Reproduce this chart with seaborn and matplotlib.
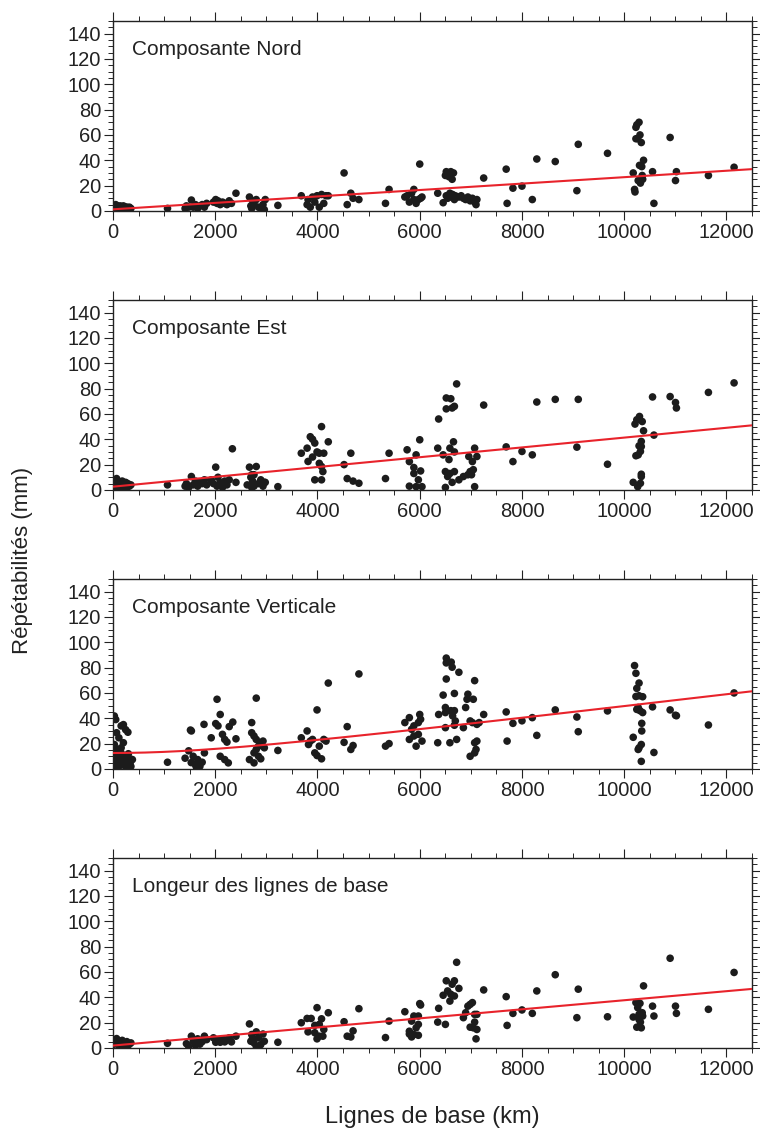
"""Repeatability vs baseline length, four components"""
import numpy as np
import pandas as pd
import matplotlib
matplotlib.use("Agg")
import matplotlib.pyplot as plt
from matplotlib.ticker import MultipleLocator
import seaborn as sns

# ---- data (km, mm) ----
NORD_X = [26, 53, 70, 90, 115, 140, 159, 180, 203, 230, 247, 270, 291, 320, 350,
          1066,
          1410, 1436, 1480, 1533, 1568, 1612, 1656, 1700, 1744, 1788, 1832,
          1965, 2009, 2035, 2053, 2097, 2141, 2185, 2229, 2273, 2317, 2405,
          2669, 2696, 2713, 2731, 2758, 2802, 2846, 2890, 2934, 2960, 2978,
          3225,
          3683, 3797, 3815, 3859, 3903, 3947, 3991, 4035, 4079, 4123, 4167, 4211,
          4520, 4581, 4652, 4696, 4810, 5330, 5400,
          5709, 5753, 5797, 5841, 5885, 5929, 5973, 6000, 6017, 6044, 5885,
          6352, 6458,
          6502, 6519, 6546, 6572, 6608, 6634, 6660, 6519, 6546, 6590, 6616, 6643, 6678, 6696,
          6766, 6854, 6898, 6942, 6986, 7030, 7074, 7101, 7118, 6810,
          7251, 7691, 7709, 7823, 8000, 8202, 8290, 8651, 9074, 9101, 9673,
          10176, 10202, 10211, 10229, 10246, 10264, 10273, 10290, 10299, 10308,
          10317, 10334, 10343, 10352, 10361, 10378, 10229,
          10554, 10581, 10898, 11003, 11021, 11647, 12149]
NORD_Y = [3, 5, 2, 4, 3, 4, 2, 3, 4, 2, 3, 3, 2, 3, 2,
          2,
          2, 4, 3, 8.6, 3, 5, 2, 4, 5, 3, 6,
          7, 9, 6, 8, 5, 7, 6, 5, 8, 6, 14,
          11, 4, 2, 8, 6, 9, 3, 2, 5, 1, 9,
          4.4,
          12, 5, 9, 3, 11, 7, 12, 3, 13, 6, 12, 12,
          30, 5, 14, 10, 9, 6, 17,
          11, 12, 7, 14, 17, 6, 9, 37, 10, 11, 9,
          14, 6.5,
          28, 31, 29, 27, 31, 25, 30, 12, 10, 14, 11, 13, 9, 12,
          11, 10, 9, 11, 8, 10, 7, 5, 9, 12,
          26, 33, 6, 18, 19.6, 9, 41, 39, 16, 52.6, 45.5,
          30, 17, 15, 66, 68, 57, 24, 70, 36, 60,
          22, 54, 35, 28, 25, 40, 57,
          31, 6, 58, 24, 31, 28, 34.5]

EST_X = [26, 53, 70, 90, 115, 140, 159, 180, 203, 230, 247, 270, 291, 320, 350, 115, 200,
         1066,
         1410, 1436, 1480, 1533, 1568, 1612, 1656, 1700, 1744, 1788, 1832,
         1921, 1965, 2009, 2035, 2053, 2097, 2141, 2185, 2229, 2273, 2335, 2405,
         2625, 2669, 2696, 2713, 2731, 2758, 2802, 2846, 2890, 2934, 2960, 2978, 2713, 2758,
         3225,
         3683, 3797, 3815, 3859, 3903, 3947, 3991, 3903, 4035, 4079, 4035, 4079, 4105,
         3947, 4079, 4123, 4211,
         4520, 4581, 4652, 4696, 4810, 5330, 5400,
         5753, 5797, 5885, 5929, 5885, 5973, 5929, 5797, 6017, 6000, 6044,
         6352, 6370,
         6519, 6608, 6519, 6634, 6678, 6722, 6660, 6590, 6678, 6572, 6458, 6502, 6546,
         6590, 6678, 6634, 6502,
         6766, 6854, 6942, 6986, 7030, 7074, 7048, 6960, 7118, 7074, 7013,
         7251, 7691, 7823, 8000, 8202, 8290, 8651, 9101, 9074, 9673,
         10176, 10229, 10211, 10246, 10299, 10264, 10317, 10334, 10334, 10317, 10334,
         10334, 10352, 10378, 10290, 10273,
         10554, 10581, 10898, 11003, 11021, 11647, 12149]
EST_Y = [4, 2, 9, 5, 3, 6, 2, 7, 4, 3, 6, 2, 5, 3, 4, 1, 1.5,
         4,
         3, 5, 2, 10.6, 4, 7, 3, 6, 5, 8, 4,
         8, 5, 18, 3, 10, 6, 2, 7, 4, 8, 32.5, 6,
         4, 18, 10, 2, 7, 12, 18.5, 5, 8, 3, 6, 6, 12, 3,
         2.6,
         29, 33, 22.5, 42, 40, 37, 30, 26, 29, 50, 21, 18.5, 14.5,
         8, 8, 29, 38,
         20, 9, 29, 7, 5.3, 9, 29,
         31.7, 22.4, 17.7, 27.7, 13, 8, 2.6, 3, 15, 39.6, 2.6,
         33, 56,
         72.6, 72, 64, 64.7, 66, 83.7, 38, 33, 30, 24, 27.7, 14.5, 10.6,
         13, 14.5, 6, 2,
         8, 10.6, 12, 14.5, 22.4, 33, 16, 26.4, 26.4, 2.6, 12,
         67, 34, 22.4, 30.4, 27.7, 69.4, 71.5, 71.5, 33.8, 20.3,
         6, 27, 52, 55.4, 58, 2.6, 5.3, 12.4, 10.6, 30.4, 34.3,
         38.3, 54, 46.7, 34.8, 27.7,
         73.4, 43.3, 73.7, 69, 64.7, 77, 84.5]

VERT_X = [26, 53, 70, 159, 203, 247, 291, 115, 203, 26, 70, 159, 203, 247, 291,
          335, 53, 115, 247, 335, 379, 159, 26, 90, 130, 180, 300, 60, 220, 350,
          1066,
          1410, 1515, 1533, 1780, 1480, 1568, 1656, 1612, 1700, 1744, 1788, 1530, 1630,
          1921, 2009, 2035, 2097, 2053, 2141, 2185, 2229, 2273, 2343, 2405, 2097, 2185, 2255,
          2669, 2713, 2758, 2802, 2846, 2890, 2802, 2713, 2758, 2846, 2890, 2934, 2758,
          2960, 2802,
          3225,
          3683, 3797, 3824, 3859, 3903, 3947, 3991, 3991, 4035, 4079, 4123, 4167, 4211,
          4520, 4581, 4652, 4696, 4810, 5330, 5400,
          5709, 5797, 5841, 5885, 5929, 5797, 5973, 6000, 6017, 5973, 6044, 5885,
          6352, 6370,
          6458, 6519, 6519, 6616, 6634, 6519, 6502, 6502, 6502, 6590, 6608, 6643, 6678,
          6722, 6678, 6696, 6766, 6678,
          6854, 6898, 6925, 6942, 6986, 7030, 7048, 7074, 7074, 7101, 7118, 7118, 7162,
          7074, 6986,
          7251, 7691, 7709, 7823, 8000, 8202, 8290, 8651, 9074, 9101, 9673,
          10202, 10229, 10246, 10290, 10229, 10290, 10361, 10246, 10308, 10361, 10176,
          10273, 10334, 10343, 10343, 10334, 10290, 10273,
          10554, 10581, 10898, 11003, 11021, 11647, 12149]
VERT_Y = [41.8, 39, 28.6, 34, 35, 31, 29, 24.6, 20.7, 19.3, 15.4, 12.7, 10, 7.4, 6,
          8, 4.8, 2, 2, 4.8, 7.4, 16.7, 10, 12, 8, 5, 12, 1, 3, 2,
          5.3,
          8.5, 30.7, 30, 35.2, 14.3, 10, 7.4, 3.4, 2.1, 5.3, 12.7, 5, 1.5,
          24.6, 35.8, 55, 43, 34, 27.3, 23.3, 21.2, 33.4, 37, 23.8, 10, 7.4, 4.8,
          7.4, 36.6, 12.7, 55.9, 18, 20.7, 23.3, 28.6, 26, 10, 8, 22, 4.8,
          16.7, 15.4,
          14.6,
          24.6, 30, 19.3, 22, 23.3, 12.7, 10.6, 46.6, 18, 8, 23.3, 22, 67.8,
          21, 33.4, 15.4, 18.5, 75, 18, 20,
          36.6, 40.5, 31.3, 26, 18, 23.3, 27.3, 43, 39.2, 36.6, 22, 34,
          20.7, 43,
          58.3, 87.5, 83.7, 84.3, 80.3, 71, 48.5, 44.5, 32.6, 20.7, 46, 41.9, 34.5,
          23.3, 46, 37.9, 76.3, 59.6,
          32.6, 48.5, 55, 59, 10, 36.6, 55, 69.7, 12.7, 15.4, 22, 35.2, 36.6,
          20.7, 37.9,
          43, 45, 22, 36, 38, 40.5, 26.5, 46.6, 41, 29.4, 45.8,
          81.6, 75.5, 63.6, 67.8, 57.2, 57.8, 57, 47, 46, 44.5, 25,
          15.4, 19.3, 30, 36, 6, 16.7, 48.5,
          49, 13, 46.6, 42.4, 42, 34.7, 60]

LONG_X = [26, 53, 70, 90, 115, 140, 159, 180, 203, 230, 247, 270, 291, 320, 350,
          1066,
          1436, 1533, 1568, 1656, 1744, 1788, 1832, 1480, 1612, 1700,
          1965, 2053, 2097, 2185, 2229, 2273, 2317, 2405, 2009, 2141,
          2669, 2696, 2713, 2758, 2802, 2846, 2890, 2934, 2802, 2960, 2731,
          3225,
          3683, 3797, 3815, 3876, 3947, 3991, 3991, 4035, 4079, 4105, 4123, 4035, 3947,
          4211,
          4520, 4581, 4652, 4696, 4810, 5330, 5400,
          5709, 5797, 5841, 5885, 5885, 5929, 5973, 5973, 5973, 6000, 6017, 5841, 5797,
          6352, 6370,
          6458, 6502, 6519, 6546, 6590, 6608, 6634, 6678, 6722, 6678, 6766,
          6854, 6898, 6942, 6986, 7030, 7048, 7074, 7074, 7101, 7118, 7118, 6986,
          7251, 7691, 7709, 7823, 8000, 8202, 8290, 8651, 9074, 9101, 9673,
          10176, 10229, 10264, 10290, 10246, 10317, 10334, 10352, 10308, 10378, 10361, 10290,
          10554, 10581, 10898, 11003, 11021, 11647, 12149]
LONG_Y = [3, 5, 7.4, 4, 2, 5, 3, 6, 4, 2, 3, 5, 2, 3, 4,
          3.7,
          3.4, 9.3, 5.3, 7.2, 5, 9.3, 6.6, 1.3, 1.9, 3,
          8, 6, 4.5, 4.8, 6.6, 8, 4.8, 9.3, 4.5, 7,
          19, 5.3, 10.6, 4, 12.7, 8, 2.6, 11, 1.3, 5.3, 8,
          4.5,
          19.9, 23.3, 12.7, 23.3, 17.8, 31.8, 7.2, 18.6, 23, 9.3, 14.6, 9.3, 12,
          27.8,
          20.7, 9.3, 8.7, 13.5, 31, 8.2, 21.2,
          28.6, 13.2, 21.2, 25.2, 10.6, 15.9, 25.2, 18.6, 10, 35, 33.9, 8.7, 11,
          20.4, 31.3,
          41.6, 18.6, 53, 45, 37, 42.4, 50.3, 53, 67.6, 41, 47,
          23.9, 27.8, 33, 34.4, 35.8, 15.9, 20.4, 26.5, 7.2, 14.6, 26.5, 16.4,
          45.8, 40.5, 17.8, 27.3, 30, 27.3, 45, 57.8, 23.9, 46.4, 24.6,
          24.4, 35.8, 31.8, 26.5, 16.4, 20.4, 15.9, 27.8, 35.2, 49, 25.2, 22.5,
          33, 25.2, 70.8, 33, 27.3, 30.5, 59.6]

TITLES = ["Composante Nord", "Composante Est", "Composante Verticale",
          "Longeur des lignes de base"]
# fitted curve  y = sqrt(A^2 + (B*L)^2) + C
FIT_A = [0.0, 0.0, 12.6, 0.0]
FIT_B = [0.002536, 0.003872, 0.0048, 0.003576]
FIT_C = [1.3, 2.6, 0.0, 1.9]

sns.set_style("ticks")
plt.rcParams['font.family'] = ['Liberation Sans Narrow', 'Liberation Sans', 'DejaVu Sans']
plt.rcParams['axes.linewidth'] = 1.0
for ax_ in ("x", "y"):
    plt.rcParams[f'{ax_}tick.major.size'] = 6.5
    plt.rcParams[f'{ax_}tick.minor.size'] = 3.6
    plt.rcParams[f'{ax_}tick.major.width'] = 0.8
    plt.rcParams[f'{ax_}tick.minor.width'] = 0.7
    plt.rcParams[f'{ax_}tick.direction'] = "out"

fig = plt.figure(figsize=(7.6, 11.36), dpi=100)
bottoms = [0.8143, 0.5687, 0.3231, 0.0775]
datasets = [(NORD_X, NORD_Y), (EST_X, EST_Y), (VERT_X, VERT_Y), (LONG_X, LONG_Y)]

for i, (xs, ys) in enumerate(datasets):
    ax = fig.add_axes([0.1487, bottoms[i], 0.8408, 0.1673])
    df = pd.DataFrame({"L": xs, "R": ys})
    sns.scatterplot(data=df, x="L", y="R", ax=ax, color="#1c1c1c", s=30,
                    edgecolor="none", linewidth=0, zorder=2)

    grid = np.linspace(0, 12500, 300)
    fit = pd.DataFrame({"L": grid,
                        "R": np.sqrt(FIT_A[i] ** 2 + (FIT_B[i] * grid) ** 2) + FIT_C[i]})
    sns.lineplot(data=fit, x="L", y="R", ax=ax, color="#e8232b", linewidth=1.5, zorder=3)

    ax.set_xlim(0, 12500)
    ax.set_ylim(0, 150)
    ax.xaxis.set_major_locator(MultipleLocator(2000))
    ax.xaxis.set_minor_locator(MultipleLocator(500))
    ax.yaxis.set_major_locator(MultipleLocator(20))
    ax.yaxis.set_minor_locator(MultipleLocator(5))
    ax.tick_params(which="both", top=True, right=True, labeltop=False, labelright=False)
    ax.tick_params(which="major", labelsize=14.5, pad=2, colors="#222222")
    ax.set_xlabel("")
    ax.set_ylabel("")
    for sp in ax.spines.values():
        sp.set_visible(True)
        sp.set_color("#222222")
    ax.text(0.03, 0.9, TITLES[i], transform=ax.transAxes, fontsize=15,
            va="top", ha="left", color="#222222")

fig.text(0.029, 0.507, "Répétabilités (mm)", rotation=90, ha="center", va="center",
         fontsize=16, color="#222222")
fig.text(0.569, 0.0167, "Lignes de base (km)", ha="center", va="center",
         fontsize=17, color="#222222")

plt.savefig("out.png", dpi=100)
plt.close()
